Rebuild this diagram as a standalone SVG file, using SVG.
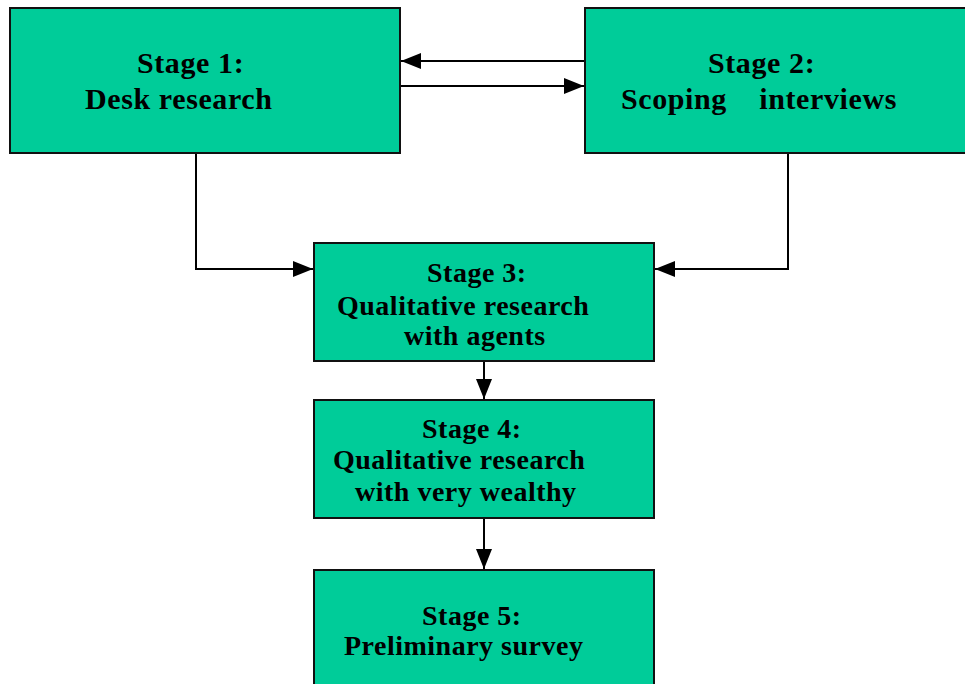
<svg xmlns="http://www.w3.org/2000/svg" width="965" height="684" viewBox="0 0 965 684">
<defs>
<style>
.box{fill:#00CC99;stroke:#111;stroke-width:2}
.t{font-family:"Liberation Serif","Times New Roman",serif;font-weight:bold;fill:#000}
.big{font-size:30px;letter-spacing:0.6px}
.sm{font-size:28px;letter-spacing:0.5px}
.ln{fill:none;stroke:#000;stroke-width:2;marker-end:url(#ah)}
</style>
<marker id="ah" markerUnits="userSpaceOnUse" markerWidth="20" markerHeight="16" refX="20" refY="8" orient="auto">
<path d="M0,0 L20,8 L0,16 Z" fill="#000"/>
</marker>
</defs>
<rect width="965" height="684" fill="#fff"/>
<g id="connectors">
<line class="ln" x1="585" y1="61" x2="401" y2="61"/>
<line class="ln" x1="400" y1="86" x2="584" y2="86"/>
<polyline class="ln" points="196,153 196,269 313,269"/>
<polyline class="ln" points="788,153 788,269 655,269"/>
<line class="ln" x1="484" y1="361" x2="484" y2="399"/>
<line class="ln" x1="484" y1="518" x2="484" y2="569"/>
</g>
<g id="stage1">
<rect class="box" x="10" y="8" width="390" height="145"/>
<text class="t big" x="137" y="73">Stage 1:</text>
<text class="t big" x="85" y="109">Desk research</text>
</g>
<g id="stage2">
<rect class="box" x="585" y="8" width="385" height="145"/>
<text class="t big" x="708" y="73">Stage 2:</text>
<text class="t big" x="621" y="109" xml:space="preserve">Scoping    interviews</text>
</g>
<g id="stage3">
<rect class="box" x="314" y="243" width="340" height="118"/>
<text class="t sm" x="427" y="282">Stage 3:</text>
<text class="t sm" x="337" y="315">Qualitative research</text>
<text class="t sm" x="404" y="345">with agents</text>
</g>
<g id="stage4">
<rect class="box" x="314" y="400" width="340" height="118"/>
<text class="t sm" x="422" y="438">Stage 4:</text>
<text class="t sm" x="333" y="469">Qualitative research</text>
<text class="t sm" x="355" y="501">with very wealthy</text>
</g>
<g id="stage5">
<rect class="box" x="314" y="570" width="340" height="130"/>
<text class="t sm" x="422" y="625">Stage 5:</text>
<text class="t sm" x="344" y="655">Preliminary survey</text>
</g>
</svg>
